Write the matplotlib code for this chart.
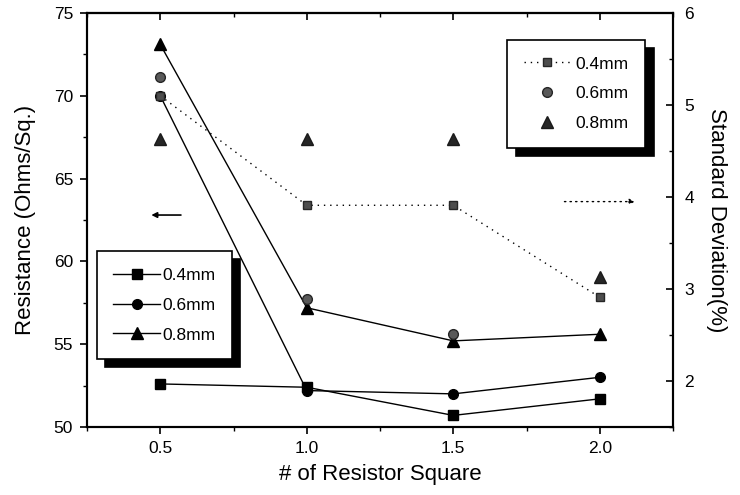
import numpy as np
import matplotlib
matplotlib.use('Agg')
import matplotlib.pyplot as plt
from matplotlib.ticker import MultipleLocator, FixedLocator

plt.rcParams['font.family'] = ['Liberation Sans', 'DejaVu Sans']

# data
squares = [0.5, 1.0, 1.5, 2.0]
labels = ['0.4mm', '0.6mm', '0.8mm']

# resistance (left axis)
res_04 = [52.6, 52.4, 50.7, 51.7]
res_06 = [70.0, 52.2, 52.0, 53.0]
res_08 = [73.1, 57.2, 55.2, 55.6]

# standard deviation (right axis)
std_04 = [5.10, 3.91, 3.91, 2.91]
std_06 = [5.30, 2.89, 2.51, np.nan]
std_08 = [4.63, 4.63, 4.63, 3.13]

fig = plt.figure(figsize=(7.4, 4.95), dpi=100)
ax1 = fig.add_axes([0.1176, 0.1374, 0.7919, 0.8363])
ax2 = ax1.twinx()

# 左轴: 电阻
ms = 7
ax1.plot(squares, res_04, color='black', lw=1, marker='s', ms=ms, label=labels[0])
ax1.plot(squares, res_06, color='black', lw=1, marker='o', ms=ms, label=labels[1])
ax1.plot(squares, res_08, color='black', lw=1, marker='^', ms=ms + 1, label=labels[2])

# 右轴: 标准差
ax2.plot(squares, std_04, color='black', lw=1, ls=(0, (1, 3.5)), marker='s', ms=6,
         mfc='0.3', mec='0.15', label=labels[0])
ax2.plot(squares, std_06, color='none', marker='o', ms=7, mfc='0.35', mec='0.15',
         label=labels[1], lw=0)
ax2.plot(squares, std_08, color='none', marker='^', ms=8, mfc='0.15', mec='0.1',
         label=labels[2], lw=0)

# arrows
ax1.annotate('', xy=(0.46, 62.8), xytext=(0.58, 62.8),
             arrowprops=dict(arrowstyle='-|>', color='black', lw=1.2,
                             mutation_scale=8))
ax2.annotate('', xy=(2.13, 3.95), xytext=(1.87, 3.95),
             arrowprops=dict(arrowstyle='-|>', color='black', lw=1.0, ls=(0, (1, 3)),
                             mutation_scale=8))

ax1.set_xlim(0.25, 2.25)
ax1.set_ylim(50, 75)
ax2.set_ylim(1.5, 6)

ax1.xaxis.set_major_locator(FixedLocator(squares))
ax1.xaxis.set_minor_locator(MultipleLocator(0.25))
ax1.set_xticklabels(['%.1f' % s for s in squares])
ax1.yaxis.set_major_locator(MultipleLocator(5))
ax1.yaxis.set_minor_locator(MultipleLocator(2.5))
ax2.yaxis.set_major_locator(FixedLocator([2, 3, 4, 5, 6]))
ax2.yaxis.set_minor_locator(MultipleLocator(0.5))

ax1.tick_params(axis='both', which='major', direction='out', length=5, width=1.2,
                labelsize=12.5, pad=5)
ax1.tick_params(axis='both', which='minor', direction='out', length=3, width=1)
ax2.tick_params(axis='y', which='major', direction='in', length=5, width=1.2,
                labelsize=12.5, pad=8)
ax2.tick_params(axis='y', which='minor', direction='in', length=3, width=1)

top = ax1.secondary_xaxis('top')
top.xaxis.set_major_locator(FixedLocator(squares))
top.xaxis.set_minor_locator(MultipleLocator(0.25))
top.tick_params(which='major', direction='in', length=5, width=1.2, labeltop=False)
top.tick_params(which='minor', direction='in', length=3, width=1)
top.spines['top'].set_linewidth(1.5)

for a in (ax1, ax2):
    for s in a.spines.values():
        s.set_linewidth(1.5)

ax1.set_xlabel('# of Resistor Square', fontsize=16, labelpad=6)
ax1.set_ylabel('Resistance (Ohms/Sq.)', fontsize=16, labelpad=13)
ax2.set_ylabel('Standard Deviation(%)', fontsize=16, rotation=270, labelpad=24)

shadow = {'color': 'black', 'alpha': 1, 'ox': 6, 'oy': -6}

h1, l1 = ax1.get_legend_handles_labels()
leg1 = ax2.legend(h1, l1, loc='upper left', bbox_to_anchor=(0.017, 0.425),
                  fontsize=12.5, frameon=True, fancybox=False, shadow=shadow,
                  edgecolor='black', framealpha=1, handlelength=2.7,
                  labelspacing=0.85, borderpad=0.95, handletextpad=0.1,
                  borderaxespad=0)
leg1.get_frame().set_linewidth(1.2)
ax2.add_artist(leg1)

h2, l2 = ax2.get_legend_handles_labels()
leg2 = ax2.legend(h2, l2, loc='upper left', bbox_to_anchor=(0.717, 0.935),
                  fontsize=12.5, frameon=True, fancybox=False, shadow=shadow,
                  edgecolor='black', framealpha=1, handlelength=2.7,
                  labelspacing=0.85, borderpad=0.95, handletextpad=0.3,
                  borderaxespad=0)
leg2.get_frame().set_linewidth(1.2)

fig.savefig('out.png', dpi=100)
